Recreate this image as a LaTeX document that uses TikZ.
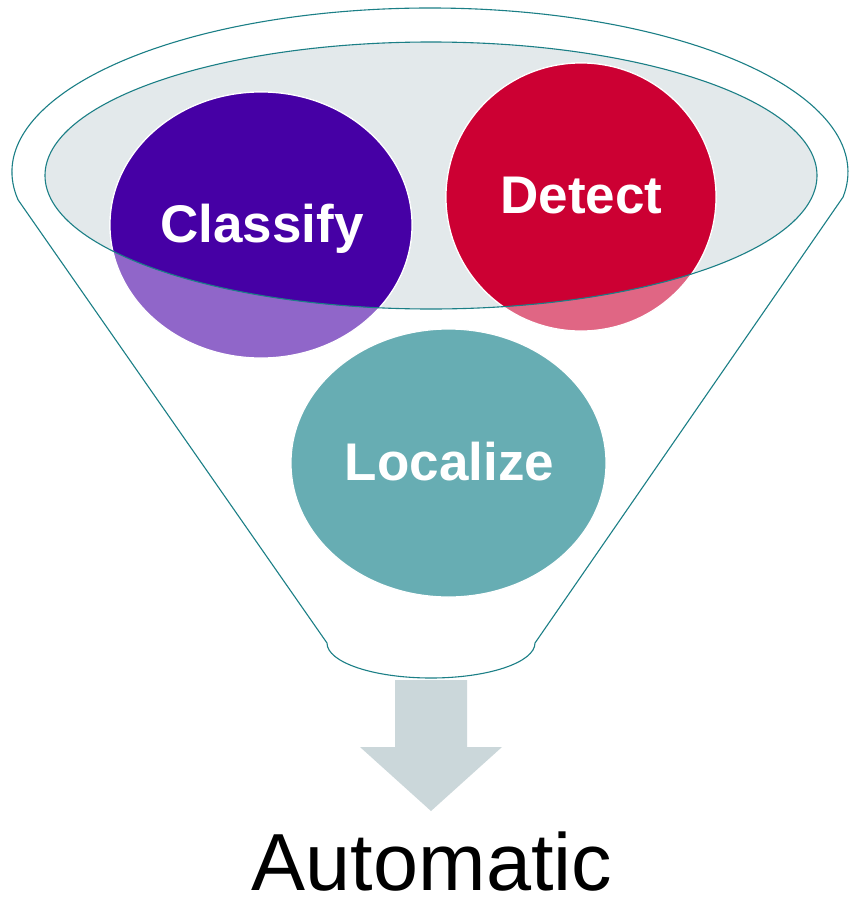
\documentclass[tikz,border=0pt]{standalone}
\usepackage{fontspec}
\setmainfont{Liberation Sans}
\usetikzlibrary{shapes.geometric}
\definecolor{funnelline}{HTML}{1B7F86}
\definecolor{rimgray}{HTML}{E3E9EB}
\definecolor{cpurple}{HTML}{4600A5}
\definecolor{cred}{HTML}{CC0033}
\definecolor{cteal}{HTML}{67ADB3}
\definecolor{agray}{HTML}{CBD7DA}
\begin{document}
\begin{tikzpicture}[x=1pt,y=-1pt,
  blob/.style={ellipse, inner sep=0pt, draw=white, line width=1.2pt},
  lbl/.style={text=white, font=\fontsize{53}{53}\selectfont\bfseries, anchor=base, inner sep=0pt},
  outline/.style={draw=funnelline, line width=1.1pt}]
\useasboundingbox[fill=white] (0,0) rectangle (849,897);
% funnel body
\draw[outline, line join=round] (18.1,199.9)
  arc[start angle=170.2, end angle=368.8, x radius=418, y radius=164]
  coordinate (rk) -- (535,643) coordinate (bk)
  arc[start angle=0, end angle=180, x radius=104, y radius=35]
  coordinate (lk) -- cycle;
% rim fill
\node[ellipse, inner sep=0pt, minimum width=772pt, minimum height=267pt, fill=rimgray] (rim) at (431,175.5) {};
% translucent circles
\node[blob, fill=cpurple, fill opacity=0.6, minimum width=302pt, minimum height=266pt] (cls0) at (261,225) {};
\node[blob, fill=cred, fill opacity=0.6, minimum width=270pt, minimum height=268pt] (det0) at (581,197) {};
\node[blob, fill=cteal, minimum width=315pt, minimum height=268pt] (loc) at (448.5,463) {};
% opaque parts inside the rim
\begin{scope}
  \clip (431,175.5) ellipse [x radius=386, y radius=133.5];
  \node[blob, fill=cpurple, minimum width=302pt, minimum height=266pt] (cls) at (261,225) {};
  \node[blob, fill=cred, minimum width=270pt, minimum height=268pt] (det) at (581,197) {};
\end{scope}
% rim outline
\draw[outline] (431,175.5) ellipse [x radius=386, y radius=133.5];
% labels
\node[lbl] (tcls) at (262,242) {Classify};
\node[lbl] (tdet) at (581.5,213) {Detect};
\node[lbl] (tloc) at (449.5,480) {Localize};
% arrow
\fill[agray] (395,680) -- (467,680) -- (467,747) -- (502,747) -- (431,811)
  -- (360,747) -- (395,747) -- cycle;
\node[anchor=base, inner sep=0pt, text depth=0pt, font=\fontsize{81}{81}\selectfont] (auto) at (432,890) {Automatic};
\end{tikzpicture}
\end{document}
